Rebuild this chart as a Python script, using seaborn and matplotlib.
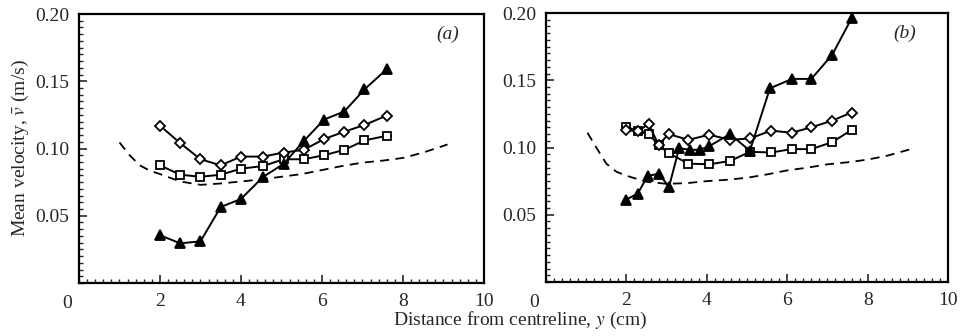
import matplotlib
matplotlib.use("Agg")
import matplotlib.pyplot as plt
import seaborn as sns
import numpy as np
from matplotlib.ticker import MultipleLocator, FixedLocator

# ---------------- data ----------------
# panel (a)
xa = [2.0, 2.5, 3.0, 3.5, 4.0, 4.55, 5.05, 5.55, 6.05, 6.55, 7.05, 7.6]
diamond_a = [0.117, 0.104, 0.092, 0.0875, 0.094, 0.094, 0.097, 0.099, 0.107, 0.1125, 0.1175, 0.1245]
square_a = [0.0875, 0.0805, 0.079, 0.0805, 0.085, 0.087, 0.092, 0.092, 0.095, 0.099, 0.106, 0.1095]
triangle_a = [0.0355, 0.0295, 0.031, 0.0565, 0.0625, 0.079, 0.0885, 0.1055, 0.1215, 0.1275, 0.144, 0.159]
dash_xa = [1.0, 1.25, 1.5, 1.75, 2.0, 2.5, 3.0, 3.5, 4.0, 4.5, 5.0, 5.5, 6.0, 6.5, 7.0, 7.5, 8.0, 8.5, 9.1]
dash_ya = [0.1045, 0.095, 0.0875, 0.0835, 0.081, 0.0755, 0.073, 0.074, 0.0755, 0.077, 0.079, 0.081,
           0.084, 0.087, 0.0895, 0.091, 0.093, 0.097, 0.103]

# panel (b)
xb_t = [2.0, 2.28, 2.53, 2.8, 3.06, 3.31, 3.58, 3.82, 4.06, 4.58, 5.07, 5.57, 6.12, 6.6, 7.12, 7.6]
triangle_b = [0.0613, 0.0658, 0.0788, 0.0805, 0.0708, 0.0995, 0.0983, 0.0983, 0.101, 0.110, 0.0975,
              0.144, 0.151, 0.151, 0.169, 0.196]
xb_d = [2.0, 2.28, 2.55, 2.8, 3.05, 3.54, 4.06, 4.58, 5.07, 5.6, 6.11, 6.6, 7.12, 7.6]
diamond_b = [0.113, 0.112, 0.1175, 0.102, 0.110, 0.1057, 0.1095, 0.1057, 0.1067, 0.1125, 0.111, 0.115, 0.120, 0.126]
xb_s = [2.0, 2.28, 2.55, 2.8, 3.05, 3.54, 4.06, 4.58, 5.07, 5.6, 6.11, 6.6, 7.12, 7.6]
square_b = [0.1155, 0.112, 0.110, 0.102, 0.0958, 0.088, 0.0875, 0.090, 0.0968, 0.0963, 0.0988, 0.0988, 0.104, 0.113]
dash_xb = [1.03, 1.25, 1.5, 1.75, 2.0, 2.5, 3.0, 3.5, 4.0, 4.5, 5.0, 5.5, 6.0, 6.5, 7.0, 7.5, 8.0, 8.5, 9.1]
dash_yb = [0.111, 0.1, 0.088, 0.082, 0.079, 0.0745, 0.073, 0.0735, 0.075, 0.076, 0.0775, 0.080,
           0.083, 0.085, 0.0875, 0.089, 0.091, 0.094, 0.099]

xticks = [2, 4, 6, 8, 10]
xticklabels = ["2", "4", "6", "8", "10"]
yticks = [0.05, 0.10, 0.15, 0.20]
yticklabels = ["0.05", "0.10", "0.15", "0.20"]
panel_labels = ["(a)", "(b)"]

# ---------------- style ----------------
sns.set_style("ticks")
plt.rcParams["font.family"] = ["Liberation Serif", "DejaVu Serif"]
plt.rcParams["mathtext.fontset"] = "stix"

fig = plt.figure(figsize=(9.61, 3.36), dpi=100)
ax_a = fig.add_axes([0.0822, 0.1577, 0.4214, 0.8006])
ax_b = fig.add_axes([0.5682, 0.1607, 0.4183, 0.8006])

def draw_series(ax, x, y, marker, filled, ms):
    sns.lineplot(x=x, y=y, ax=ax, color="black", linewidth=1.4, sort=False, estimator=None,
                 marker=marker, markersize=ms,
                 markerfacecolor="black" if filled else "white",
                 markeredgecolor="black", markeredgewidth=1.3)

def draw_dash(ax, x, y):
    sns.lineplot(x=x, y=y, ax=ax, color="black", linewidth=1.3, sort=False, estimator=None,
                 linestyle=(0, (5, 3.5)))

draw_dash(ax_a, dash_xa, dash_ya)
draw_series(ax_a, xa, square_a, "s", False, 5.5)
draw_series(ax_a, xa, diamond_a, "D", False, 5.5)
draw_series(ax_a, xa, triangle_a, "^", True, 6.5)

draw_dash(ax_b, dash_xb, dash_yb)
draw_series(ax_b, xb_s, square_b, "s", False, 5.5)
draw_series(ax_b, xb_d, diamond_b, "D", False, 5.5)
draw_series(ax_b, xb_t, triangle_b, "^", True, 6.5)

for ax, lab in zip([ax_a, ax_b], panel_labels):
    ax.set_xlim(0, 10)
    ax.set_ylim(0, 0.20)
    ax.xaxis.set_major_locator(FixedLocator(xticks))
    ax.set_xticklabels(xticklabels)
    ax.yaxis.set_major_locator(FixedLocator(yticks))
    ax.set_yticklabels(yticklabels)
    ax.xaxis.set_minor_locator(MultipleLocator(0.2))
    ax.yaxis.set_minor_locator(MultipleLocator(0.005))
    ax.tick_params(axis="both", which="major", direction="in", length=6, width=1.2,
                   labelsize=14, pad=7, top=False, right=False)
    ax.tick_params(axis="both", which="minor", direction="in", length=3, width=1.0,
                   top=False, right=False)
    for sp in ax.spines.values():
        sp.set_visible(True)
        sp.set_linewidth(1.6)
        sp.set_color("black")
    ax.set_xlabel("")
    ax.set_ylabel("")
    ax.annotate("0", xy=(0, 0), xycoords="axes fraction", xytext=(-12, -20),
                textcoords="offset pixels", ha="center", va="center", fontsize=14)
    ax.text(0.91 if lab == "(a)" else 0.893, 0.925, lab, transform=ax.transAxes,
            ha="center", va="center", fontsize=14, style="italic")

ax_a.set_ylabel(r"Mean velocity, $\bar{v}$ (m/s)", fontsize=14, labelpad=3)
fig.text(0.541, 0.045, r"Distance from centreline, $y$ (cm)", ha="center", va="center", fontsize=14)

fig.savefig("out.png", dpi=100)
